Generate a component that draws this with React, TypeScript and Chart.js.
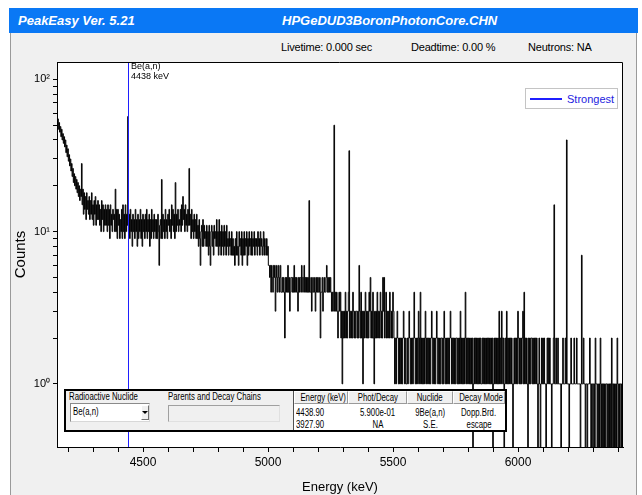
import React, { useEffect, useRef } from "react";
import { Chart, registerables } from "chart.js";

Chart.register(...registerables);

// ---------------- data ----------------
const ENERGY_START_KEV = 4155; // energy of first channel
const KEV_PER_CHANNEL = 2.5;

// counts per channel (one row = 100 keV = 40 channels)
const counts: number[] = [
  57, 50, 55, 47, 52, 45, 49, 42, 47, 40, 44, 38, 42, 36, 40, 33, 37, 31, 35, 29, 32, 27, 30, 25, 28, 23, 26, 21, 24, 20, 23, 19, 22, 18, 21, 17, 20, 16, 19, 17, // 4155
  28, 15, 19, 13, 18, 14, 17, 12, 18, 14, 16, 13, 17, 12, 16, 13, 18, 12, 15, 11, 16, 13, 17, 11, 15, 12, 16, 12, 15, 11, 14, 10, 16, 12, 15, 10, 14, 11, 15, 11, // 4255
  14, 10, 15, 11, 14, 9, 15, 11, 13, 10, 14, 12, 13, 10, 19, 10, 14, 9, 14, 11, 13, 9, 12, 10, 14, 9, 15, 10, 13, 9, 15, 10, 13, 11, 57, 10, 13, 9, 14, 10, // 4355
  12, 8, 13, 10, 12, 9, 14, 10, 12, 8, 13, 9, 12, 10, 14, 9, 12, 8, 13, 10, 12, 9, 13, 10, 14, 9, 12, 10, 13, 8, 12, 9, 14, 10, 12, 9, 13, 10, 12, 9, // 4455
  12, 9, 13, 10, 6, 11, 12, 9, 22, 9, 13, 10, 12, 9, 14, 10, 12, 9, 13, 11, 14, 10, 12, 9, 15, 11, 14, 10, 13, 9, 21, 10, 13, 11, 14, 10, 12, 11, 14, 10, // 4555
  15, 11, 17, 12, 14, 10, 15, 11, 13, 10, 14, 11, 26, 11, 13, 9, 14, 10, 12, 9, 13, 10, 12, 9, 13, 9, 11, 8, 12, 9, 6, 10, 11, 8, 12, 8, 11, 9, 10, 8, // 4655
  11, 8, 10, 7, 11, 8, 6, 10, 11, 8, 10, 7, 11, 9, 10, 8, 12, 8, 10, 7, 12, 8, 10, 7, 11, 8, 10, 7, 11, 8, 10, 7, 11, 8, 9, 7, 10, 8, 9, 7, // 4755
  10, 7, 9, 7, 8, 6, 9, 7, 10, 7, 8, 6, 10, 8, 9, 7, 10, 6, 9, 7, 10, 7, 9, 8, 10, 6, 9, 7, 10, 8, 9, 7, 10, 7, 9, 8, 10, 7, 9, 8, // 4855
  9, 7, 10, 8, 9, 7, 10, 8, 9, 7, 8, 10, 7, 9, 8, 7, 9, 7, 8, 6, 6, 5, 6, 4, 6, 5, 4, 6, 5, 6, 3, 5, 6, 4, 5, 6, 4, 5, 6, 4, // 4955
  4, 5, 4, 5, 4, 2, 5, 4, 5, 4, 6, 4, 5, 3, 4, 5, 5, 4, 5, 4, 6, 4, 5, 4, 5, 4, 3, 5, 4, 5, 5, 4, 6, 5, 4, 5, 6, 4, 5, 4, // 5055
  5, 4, 5, 4, 16, 4, 4, 5, 3, 4, 5, 4, 4, 5, 3, 4, 5, 4, 5, 4, 4, 5, 2, 4, 4, 5, 3, 4, 5, 4, 4, 5, 6, 4, 5, 4, 5, 4, 5, 4, // 5155
  3, 4, 3, 4, 50, 3, 4, 3, 4, 3, 2, 3, 4, 3, 4, 2, 3, 1, 3, 2, 3, 2, 4, 2, 3, 2, 3, 4, 34, 2, 3, 2, 3, 2, 4, 3, 2, 3, 2, 3, // 5255
  3, 2, 3, 2, 6, 3, 2, 4, 2, 3, 1, 3, 2, 3, 4, 2, 3, 2, 3, 2, 4, 3, 5, 2, 3, 2, 4, 2, 1, 3, 2, 3, 2, 4, 2, 3, 2, 3, 4, 2, // 5355
  3, 2, 5, 3, 5, 2, 3, 4, 2, 3, 2, 3, 2, 4, 3, 2, 3, 2, 4, 3, 2, 1, 2, 1, 2, 3, 2, 1, 2, 1, 2, 1, 2, 1, 2, 3, 2, 1, 2, 1, // 5455
  1, 2, 1, 2, 3, 2, 1, 2, 1, 2, 1, 2, 4, 2, 1, 2, 1, 2, 1, 3, 2, 1, 4, 1, 2, 1, 2, 1, 2, 1, 3, 2, 1, 2, 1, 2, 1, 2, 1, 2, // 5555
  3, 2, 1, 2, 1, 2, 1, 2, 3, 2, 1, 2, 1, 2, 1, 2, 2, 1, 2, 1, 3, 2, 1, 2, 1, 2, 1, 2, 1, 2, 3, 2, 1, 2, 1, 2, 1, 2, 1, 2, // 5655
  2, 1, 2, 1, 2, 1, 3, 1, 2, 1, 2, 1, 2, 1, 4, 2, 1, 2, 1, 2, 1, 2, 1, 2, 1, 2, 0, 1, 2, 1, 2, 1, 2, 1, 2, 1, 2, 1, 2, 1, // 5755
  1, 2, 1, 2, 1, 2, 1, 2, 1, 2, 1, 2, 1, 2, 1, 2, 1, 2, 0, 1, 2, 1, 2, 1, 2, 1, 2, 1, 3, 1, 2, 1, 3, 2, 1, 2, 0, 1, 2, 1, // 5855
  3, 1, 2, 1, 2, 1, 2, 1, 2, 1, 0, 1, 2, 1, 2, 1, 2, 1, 3, 2, 1, 2, 1, 2, 1, 2, 3, 1, 4, 1, 2, 1, 2, 1, 0, 2, 1, 2, 1, 2, // 5955
  2, 1, 2, 1, 2, 1, 2, 1, 2, 1, 0, 1, 2, 1, 0, 1, 2, 1, 2, 1, 2, 1, 1, 0, 1, 2, 1, 2, 1, 2, 1, 1, 0, 1, 1, 2, 15, 1, 1, 2, // 6055
  1, 1, 2, 1, 1, 1, 1, 0, 1, 1, 2, 1, 1, 1, 2, 1, 40, 1, 1, 1, 0, 1, 1, 2, 1, 1, 1, 1, 2, 1, 1, 1, 2, 1, 1, 1, 1, 1, 0, 1, // 6155
  7, 1, 1, 2, 1, 1, 0, 1, 1, 0, 1, 1, 1, 2, 1, 0, 1, 1, 0, 1, 1, 0, 2, 1, 1, 0, 1, 0, 1, 0, 2, 1, 0, 1, 0, 1, 0, 1, 0, 1, // 6255
  1, 0, 1, 0, 1, 0, 1, 0, 2, 1, 0, 1, 0, 1, 0, 1, 0, 2, 1, 0, 1, 0, 1, 1, 0, 1, 1, // 6355
];

const X_MIN = 4156;
const X_MAX = 6420;
const Y_MIN = 0.385;
const Y_MAX = 130;
const ZERO_DRAW_VALUE = 0.2; // zero counts drop below the log axis

const xTickValues = [4200, 4300, 4400, 4500, 4600, 4700, 4800, 4900, 5000, 5100, 5200, 5300, 5400, 5500, 5600, 5700, 5800, 5900, 6000, 6100, 6200, 6300, 6400];
const xTickLabels: Record<number, string> = { 4500: "4500", 5000: "5000", 5500: "5500", 6000: "6000" };
const yTickValues = [1, 2, 3, 4, 5, 6, 7, 8, 9, 10, 20, 30, 40, 50, 60, 70, 80, 90, 100];
const yTickLabels: Record<number, string> = { 1: "10\u2070", 10: "10\u00B9", 100: "10\u00B2" };

const strongestKeV = 4438;
const strongestLabel = ["Be(a,n)", "4438 keV"];
const legendLabel = "Strongest";

const appTitle = "PeakEasy Ver. 5.21";
const fileTitle = "HPGeDUD3BoronPhotonCore.CHN";
const infoTexts = ["Livetime: 0.000 sec", "Deadtime: 0.00 %", "Neutrons: NA"];

const nuclideLabel = "Radioactive Nuclide";
const nuclideValue = "Be(a,n)";
const parentsLabel = "Parents and Decay Chains";
const tableHeaders = ["Energy (keV)", "Phot/Decay", "Nuclide", "Decay Mode"];
const tableRows = [
  ["4438.90", "5.900e-01", "9Be(a,n)", "Dopp.Brd."],
  ["3927.90", "NA", "S.E.", "escape"],
];

// ---------------- styling ----------------
const FONT = '"Liberation Sans", Arial, sans-serif';
const BLUE = "#1f1fff";

const plotPlugin = {
  id: "plotDecor",
  beforeDraw(chart: any) {
    const { ctx, chartArea: a } = chart;
    ctx.save();
    ctx.fillStyle = "#ffffff";
    ctx.fillRect(a.left, a.top, a.right - a.left, a.bottom - a.top);
    ctx.restore();
  },
  afterDatasetsDraw(chart: any) {
    const { ctx, chartArea: a, scales } = chart;
    const px = Math.round(scales.x.getPixelForValue(strongestKeV)) + 0.5;
    ctx.save();
    ctx.strokeStyle = BLUE;
    ctx.lineWidth = 1;
    ctx.beginPath();
    ctx.moveTo(px, a.top);
    ctx.lineTo(px, a.bottom);
    ctx.stroke();
    ctx.fillStyle = "#000";
    ctx.font = `9px ${FONT}`;
    ctx.textBaseline = "middle";
    ctx.textAlign = "left";
    strongestLabel.forEach((t, i) => ctx.fillText(t, px + 2.5, a.top + 4.5 + i * 10.5));
    ctx.strokeStyle = "#000";
    ctx.beginPath();
    ctx.moveTo(a.left, a.top + 0.5);
    ctx.lineTo(a.right - 0.5, a.top + 0.5);
    ctx.lineTo(a.right - 0.5, a.bottom);
    ctx.stroke();
    ctx.restore();
  },
};

const SX = 0.78;
function Tx(props: { x: number; y: number; w?: number; align?: "left" | "center"; children: React.ReactNode }) {
  const { x, y, w, align = "left", children } = props;
  return (
    <div
      style={{
        position: "absolute",
        left: x,
        top: y - 6,
        width: w,
        height: 12,
        lineHeight: "12px",
        fontSize: 10,
        textAlign: align,
        whiteSpace: "nowrap",
        color: "#000",
      }}
    >
      <span style={{ display: "inline-block", transform: `scaleX(${SX})`, transformOrigin: align === "center" ? "center" : "left" }}>
        {children}
      </span>
    </div>
  );
}

const colX = [294, 348, 407, 453];
const colW = [54, 59, 46, 52];
const rowY = [413, 425];

export default function App() {
  const ref = useRef<HTMLCanvasElement>(null);

  useEffect(() => {
    const canvas = ref.current;
    if (!canvas) return;
    const data = counts.map((c, i) => ({
      x: ENERGY_START_KEV + i * KEV_PER_CHANNEL,
      y: c > 0 ? c : ZERO_DRAW_VALUE,
    }));
    const chart = new Chart(canvas, {
      type: "line",
      data: {
        datasets: [
          {
            label: "Counts",
            data,
            borderColor: "#000",
            borderWidth: 1,
            pointRadius: 0,
            stepped: "middle",
            fill: false,
          },
        ],
      },
      options: {
        responsive: false,
        animation: false,
        devicePixelRatio: 1,
        events: [],
        layout: { padding: { left: 10, top: 62, right: 19, bottom: 0 } },
        plugins: { legend: { display: false }, tooltip: { enabled: false } },
        scales: {
          x: {
            type: "linear",
            min: X_MIN,
            max: X_MAX,
            afterBuildTicks: (s: any) => {
              s.ticks = xTickValues.map((v) => ({ value: v }));
            },
            afterFit: (s: any) => {
              s.height = 48;
              s.paddingLeft = 0;
              s.paddingRight = 0;
            },
            ticks: {
              autoSkip: false,
              maxRotation: 0,
              minRotation: 0,
              padding: 3,
              color: "#000",
              font: { family: FONT, size: 12 },
              callback: (v: any) => xTickLabels[v as number] ?? "",
            },
            grid: { drawOnChartArea: false, drawTicks: true, tickLength: 5, color: "#000", lineWidth: 1 },
            border: { display: true, color: "#000", width: 1 },
            title: {
              display: true,
              text: "Energy (keV)",
              color: "#000",
              font: { family: FONT, size: 13 },
              padding: { top: 1, bottom: 0 },
            },
          },
          y: {
            type: "logarithmic",
            min: Y_MIN,
            max: Y_MAX,
            afterBuildTicks: (s: any) => {
              s.ticks = yTickValues.map((v) => ({ value: v }));
            },
            afterFit: (s: any) => {
              s.width = 47;
              s.paddingTop = 0;
              s.paddingBottom = 0;
            },
            ticks: {
              autoSkip: false,
              padding: 3,
              color: "#000",
              font: { family: FONT, size: 11 },
              callback: (v: any) => yTickLabels[v as number] ?? "",
            },
            grid: { drawOnChartArea: false, drawTicks: true, tickLength: 4, color: "#000", lineWidth: 1 },
            border: { display: true, color: "#000", width: 1 },
            title: {
              display: true,
              text: "Counts",
              color: "#000",
              font: { family: FONT, size: 15 },
              padding: { top: 2, bottom: 0 },
            },
          },
        },
      } as any,
      plugins: [plotPlugin],
    });
    return () => chart.destroy();
  }, []);

  return (
    <div style={{ position: "fixed", left: 0, top: 0, width: 642, height: 495, overflow: "hidden", fontFamily: FONT, background: "#fff" }}>
      {/* window panel */}
      <div
        style={{
          position: "absolute",
          left: 10,
          top: 33,
          width: 627,
          height: 462,
          background: "#f0f0f0",
          borderLeft: "1px solid #9a9a9a",
          borderRight: "1px solid #9a9a9a",
          boxSizing: "border-box",
        }}
      />
      {/* title bar */}
      <div style={{ position: "absolute", left: 9, top: 8, width: 629, height: 25, background: "#0a78f5" }} />
      <div style={{ position: "absolute", left: 18, top: 8, height: 25, lineHeight: "25px", color: "#fff", fontSize: 13, fontWeight: "bold", fontStyle: "italic", whiteSpace: "nowrap" }}>
        {appTitle}
      </div>
      <div style={{ position: "absolute", left: 282, top: 8, height: 25, lineHeight: "25px", color: "#fff", fontSize: 13, fontWeight: "bold", fontStyle: "italic", whiteSpace: "nowrap" }}>
        {fileTitle}
      </div>
      {/* info line */}
      {infoTexts.map((t, i) => (
        <div
          key={t}
          style={{ position: "absolute", left: [281, 411, 528][i], top: 40, height: 14, lineHeight: "14px", fontSize: 11, letterSpacing: -0.2, color: "#000", whiteSpace: "nowrap" }}
        >
          {t}
        </div>
      ))}

      <canvas ref={ref} width={642} height={495} style={{ position: "absolute", left: 0, top: 0, width: 642, height: 495 }} />

      {/* legend */}
      <div style={{ position: "absolute", left: 525, top: 88, width: 93, height: 21, background: "#fff", border: "1px solid #c4c4c4", boxSizing: "border-box" }} />
      <div style={{ position: "absolute", left: 530, top: 98, width: 32, height: 2, background: BLUE }} />
      <div style={{ position: "absolute", left: 567, top: 92, height: 14, lineHeight: "14px", fontSize: 11, color: "#2323e0", whiteSpace: "nowrap" }}>
        {legendLabel}
      </div>

      {/* nuclide widget */}
      <div style={{ position: "absolute", left: 64, top: 389, width: 443, height: 43, background: "#f0f0f0", border: "2px solid #000", boxSizing: "border-box" }} />
      <Tx x={69} y={397}>{nuclideLabel}</Tx>
      <div
        style={{
          position: "absolute",
          left: 70,
          top: 403,
          width: 80,
          height: 19,
          background: "#fff",
          borderStyle: "solid",
          borderWidth: 1,
          borderColor: "#8a8a8a #d8d8d8 #d8d8d8 #8a8a8a",
          boxSizing: "border-box",
        }}
      />
      <Tx x={73} y={412}>{nuclideValue}</Tx>
      <div
        style={{
          position: "absolute",
          left: 141,
          top: 405,
          width: 8,
          height: 15,
          background: "#f0f0f0",
          borderStyle: "solid",
          borderWidth: 1,
          borderColor: "#fff #707070 #707070 #fff",
          boxSizing: "border-box",
        }}
      />
      <div
        style={{
          position: "absolute",
          left: 142,
          top: 411,
          width: 0,
          height: 0,
          borderLeft: "3px solid transparent",
          borderRight: "3px solid transparent",
          borderTop: "3px solid #000",
        }}
      />
      <Tx x={168} y={397}>{parentsLabel}</Tx>
      <div
        style={{
          position: "absolute",
          left: 168,
          top: 405,
          width: 112,
          height: 17,
          background: "#f0f0f0",
          borderStyle: "solid",
          borderWidth: 1,
          borderColor: "#a0a0a0 #e0e0e0 #e0e0e0 #a0a0a0",
          boxSizing: "border-box",
        }}
      />
      {/* table */}
      <div style={{ position: "absolute", left: 293, top: 391, width: 212, height: 39, background: "#fff", borderLeft: "1px solid #505050", boxSizing: "border-box" }} />
      {tableHeaders.map((h, i) => (
        <div
          key={h}
          style={{
            position: "absolute",
            left: colX[i],
            top: 391,
            width: colW[i],
            height: 13,
            background: "#f0f0f0",
            borderStyle: "solid",
            borderWidth: 1,
            borderColor: "#ffffff #9a9a9a #9a9a9a #ffffff",
            boxSizing: "border-box",
          }}
        />
      ))}
      {tableHeaders.map((h, i) => (
        <Tx key={"h" + h} x={colX[i]} y={397.5} w={colW[i]} align="center">
          {h}
        </Tx>
      ))}
      {tableRows.map((row, r) =>
        row.map((cell, c) =>
          c === 0 ? (
            <Tx key={r + "-" + c} x={296} y={rowY[r]}>
              {cell}
            </Tx>
          ) : (
            <Tx key={r + "-" + c} x={colX[c]} y={rowY[r]} w={colW[c]} align="center">
              {cell}
            </Tx>
          )
        )
      )}
    </div>
  );
}
